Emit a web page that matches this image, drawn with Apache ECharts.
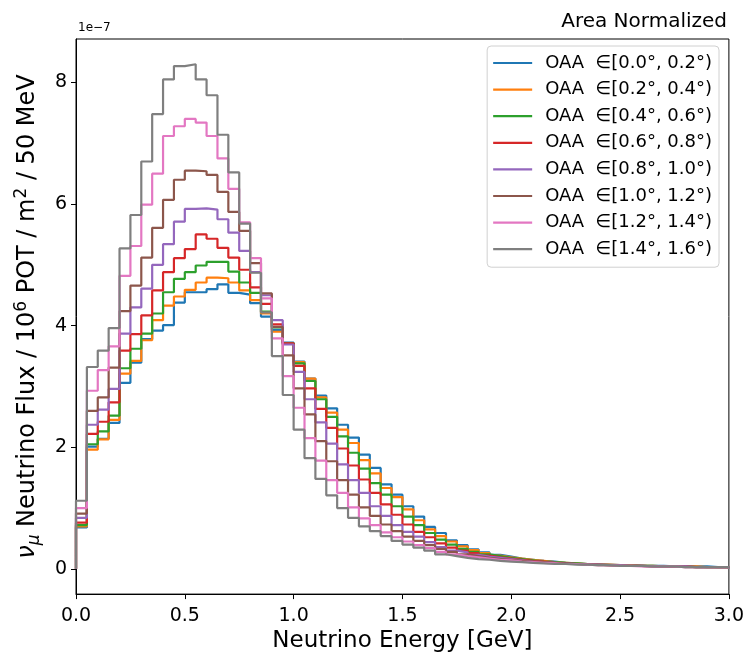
<!DOCTYPE html>
<html>
<head>
<meta charset="utf-8">
<script src="https://cdn.jsdelivr.net/npm/echarts@6/dist/echarts.min.js"></script>
<style>
  html, body { margin: 0; padding: 0; background: #fff; }
  #chart { width: 747px; height: 658px; }
</style>
</head>
<body>
<div id="chart"></div>
<script>
// Flux per 50 MeV bin, in units of 1e-7 (60 bins from 0 to 3 GeV)
const binWidth = 0.05;
const labels = [
    'OAA  ∈[0.0°, 0.2°)', 'OAA  ∈[0.2°, 0.4°)', 'OAA  ∈[0.4°, 0.6°)', 'OAA  ∈[0.6°, 0.8°)',
    'OAA  ∈[0.8°, 1.0°)', 'OAA  ∈[1.0°, 1.2°)', 'OAA  ∈[1.2°, 1.4°)', 'OAA  ∈[1.4°, 1.6°)'
];
const colors = ['#1f77b4', '#ff7f0e', '#2ca02c', '#d62728', '#9467bd', '#8c564b', '#e377c2', '#7f7f7f'];
const yTicks = [0, 2, 4, 6, 8];
const xTicks = [0, 0.5, 1.0, 1.5, 2.0, 2.5, 3.0];

const oaa00 = [0.68, 2.01, 2.14, 2.40, 3.06, 3.39, 3.78, 3.92, 4.01, 4.38,
    4.55, 4.55, 4.60, 4.68, 4.54, 4.51, 4.37, 4.15, 3.93, 3.72,
    3.41, 3.13, 2.85, 2.64, 2.37, 2.16, 1.88, 1.66, 1.39, 1.22,
    1.03, 0.86, 0.69, 0.59, 0.47, 0.39, 0.32, 0.27, 0.23, 0.20,
    0.17, 0.15, 0.13, 0.12, 0.10, 0.09, 0.08, 0.07, 0.07, 0.06,
    0.06, 0.05, 0.05, 0.05, 0.04, 0.04, 0.04, 0.04, 0.03, 0.03];
const oaa02 = [0.70, 1.96, 2.13, 2.45, 3.21, 3.42, 3.76, 4.09, 4.33, 4.48,
    4.59, 4.71, 4.79, 4.78, 4.71, 4.58, 4.42, 4.20, 3.90, 3.71,
    3.40, 3.13, 2.82, 2.57, 2.29, 2.07, 1.79, 1.57, 1.33, 1.18,
    0.98, 0.80, 0.65, 0.54, 0.45, 0.37, 0.31, 0.26, 0.22, 0.19,
    0.17, 0.15, 0.13, 0.11, 0.10, 0.09, 0.08, 0.07, 0.07, 0.06,
    0.06, 0.05, 0.05, 0.04, 0.04, 0.04, 0.04, 0.03, 0.03, 0.03];
const oaa04 = [0.72, 2.05, 2.26, 2.52, 3.30, 3.62, 3.87, 4.20, 4.55, 4.77,
    4.88, 4.99, 5.05, 5.05, 4.89, 4.71, 4.54, 4.23, 3.97, 3.71,
    3.38, 3.09, 2.79, 2.50, 2.18, 1.91, 1.65, 1.41, 1.22, 1.03,
    0.86, 0.72, 0.59, 0.48, 0.40, 0.33, 0.28, 0.24, 0.21, 0.18,
    0.16, 0.14, 0.12, 0.11, 0.10, 0.09, 0.08, 0.07, 0.06, 0.06,
    0.05, 0.05, 0.05, 0.04, 0.04, 0.04, 0.03, 0.03, 0.03, 0.03];
const oaa06 = [0.76, 2.22, 2.42, 2.74, 3.59, 3.86, 4.17, 4.58, 4.88, 5.11,
    5.26, 5.50, 5.43, 5.28, 5.12, 4.92, 4.63, 4.36, 4.02, 3.71,
    3.34, 2.97, 2.63, 2.32, 1.98, 1.70, 1.47, 1.25, 1.06, 0.89,
    0.73, 0.61, 0.52, 0.42, 0.35, 0.30, 0.26, 0.22, 0.19, 0.17,
    0.15, 0.13, 0.12, 0.10, 0.09, 0.08, 0.08, 0.07, 0.06, 0.06,
    0.05, 0.05, 0.04, 0.04, 0.04, 0.04, 0.03, 0.03, 0.03, 0.03];
const oaa08 = [0.84, 2.37, 2.62, 2.96, 3.87, 4.30, 4.61, 5.00, 5.34, 5.71,
    5.92, 5.93, 5.91, 5.75, 5.53, 5.23, 4.88, 4.50, 4.09, 3.69,
    3.24, 2.79, 2.41, 2.06, 1.72, 1.46, 1.25, 1.03, 0.87, 0.72,
    0.61, 0.53, 0.44, 0.36, 0.30, 0.27, 0.23, 0.20, 0.18, 0.16,
    0.14, 0.12, 0.11, 0.10, 0.09, 0.08, 0.07, 0.07, 0.06, 0.06,
    0.05, 0.05, 0.04, 0.04, 0.04, 0.04, 0.03, 0.03, 0.03, 0.03];
const oaa10 = [0.91, 2.60, 2.82, 3.31, 4.24, 4.66, 5.12, 5.61, 6.07, 6.40,
    6.55, 6.54, 6.48, 6.20, 5.87, 5.56, 5.03, 4.53, 3.98, 3.51,
    2.97, 2.54, 2.10, 1.77, 1.46, 1.22, 1.01, 0.87, 0.73, 0.62,
    0.53, 0.46, 0.39, 0.33, 0.28, 0.24, 0.21, 0.18, 0.16, 0.15,
    0.13, 0.12, 0.11, 0.10, 0.09, 0.08, 0.07, 0.06, 0.06, 0.05,
    0.05, 0.05, 0.04, 0.04, 0.04, 0.03, 0.03, 0.03, 0.03, 0.03];
const oaa12 = [1.00, 2.93, 3.27, 3.66, 4.82, 5.31, 5.99, 6.50, 7.12, 7.28,
    7.40, 7.34, 7.12, 6.75, 6.25, 5.70, 5.11, 4.45, 3.79, 3.17,
    2.65, 2.15, 1.78, 1.46, 1.25, 1.01, 0.83, 0.72, 0.60, 0.52,
    0.45, 0.39, 0.34, 0.28, 0.24, 0.21, 0.19, 0.17, 0.15, 0.14,
    0.12, 0.11, 0.10, 0.09, 0.08, 0.08, 0.07, 0.06, 0.06, 0.05,
    0.05, 0.04, 0.04, 0.04, 0.04, 0.03, 0.03, 0.03, 0.03, 0.03];
const oaa14 = [1.12, 3.32, 3.59, 3.96, 5.27, 5.82, 6.70, 7.48, 8.05, 8.27,
    8.30, 8.05, 7.79, 7.14, 6.52, 5.68, 4.87, 4.22, 3.50, 2.86,
    2.29, 1.82, 1.48, 1.21, 1.00, 0.84, 0.70, 0.62, 0.54, 0.46,
    0.40, 0.35, 0.30, 0.24, 0.21, 0.18, 0.16, 0.15, 0.13, 0.12,
    0.11, 0.10, 0.09, 0.08, 0.08, 0.07, 0.07, 0.06, 0.06, 0.05,
    0.05, 0.05, 0.04, 0.04, 0.04, 0.03, 0.03, 0.03, 0.03, 0.03];

const allSeries = [oaa00, oaa02, oaa04, oaa06, oaa08, oaa10, oaa12, oaa14];

// Build the outline of a step histogram (drops to zero at both ends)
function stepData(vals) {
    let pts = [[0, 0]];
    vals.forEach(function (v, i) {
        pts.push([+(i * binWidth).toFixed(2), v]);
    });
    let xEnd = +(vals.length * binWidth).toFixed(2);
    pts.push([xEnd, vals[vals.length - 1]]);
    pts.push([xEnd, 0]);
    return pts;
}

const FONT = 'DejaVu Sans';
let chart = echarts.init(document.getElementById('chart'), null, { renderer: 'canvas' });

let option = {
    animation: false,
    backgroundColor: '#fff',
    color: colors,
    title: {
        text: 'Area Normalized',
        right: 15,
        top: 7,
        textStyle: { fontFamily: FONT, fontSize: 20, fontWeight: 'normal', color: '#000' }
    },
    graphic: [{
        type: 'text',
        left: 78,
        top: 22,
        style: { text: '1e\u22127', fontFamily: FONT, fontSize: 12, fill: '#000' }
    }],
    legend: {
        orient: 'vertical',
        right: 28,
        top: 46,
        padding: [6, 7, 7, 6],
        itemWidth: 39,
        itemHeight: 2.2,
        itemGap: 4.6,
        icon: 'rect',
        borderColor: '#d0d0d0',
        borderWidth: 1,
        borderRadius: 4,
        backgroundColor: 'rgba(255,255,255,0.8)',
        textStyle: { fontFamily: FONT, fontSize: 18, color: '#000', lineHeight: 22, padding: [0, 0, 0, 8] },
        data: labels
    },
    grid: {
        left: 76,
        right: 18,
        top: 39,
        bottom: 57.5,
        show: true,
        borderColor: '#000',
        borderWidth: 1,
        containLabel: false
    },
    xAxis: {
        type: 'value',
        min: 0,
        max: 3,
        interval: 0.5,
        name: 'Neutrino Energy [GeV]',
        nameLocation: 'middle',
        nameGap: 29,
        nameTextStyle: { fontFamily: FONT, fontSize: 23, color: '#000' },
        axisLine: { show: true, onZero: false, lineStyle: { color: '#000', width: 1 } },
        axisTick: { show: true, length: 5, customValues: xTicks, lineStyle: { color: '#000' } },
        axisLabel: {
            customValues: xTicks,
            margin: 12,
            fontFamily: FONT, fontSize: 19, color: '#000',
            formatter: function (v) { return v.toFixed(1); }
        },
        splitLine: { show: false }
    },
    yAxis: {
        type: 'value',
        min: -0.415,
        max: 8.715,
        name: '{it|\u03bd}{sub|\u03bc}{a| Neutrino Flux / 10}{sup|6}{a| POT / m}{sup|2}{a| / 50 MeV}',
        nameLocation: 'middle',
        nameGap: 28,
        nameTextStyle: {
            fontFamily: FONT, fontSize: 24, color: '#000',
            rich: {
                a: { fontFamily: FONT, fontSize: 24, color: '#000', lineHeight: 32 },
                it: { fontFamily: FONT, fontSize: 24, fontStyle: 'italic', color: '#000', lineHeight: 32 },
                sub: { fontFamily: FONT, fontSize: 17, fontStyle: 'italic', color: '#000', lineHeight: 32, verticalAlign: 'bottom', padding: [0, 0, 1, 0] },
                sup: { fontFamily: FONT, fontSize: 17, color: '#000', lineHeight: 32, verticalAlign: 'top', padding: [1, 0, 0, 0] }
            }
        },
        axisLine: { show: true, onZero: false, lineStyle: { color: '#000', width: 1 } },
        axisTick: { show: true, length: 5, customValues: yTicks, lineStyle: { color: '#000' } },
        axisLabel: {
            customValues: yTicks,
            margin: 9,
            fontFamily: FONT, fontSize: 19, color: '#000'
        },
        splitLine: { show: false }
    },
    series: allSeries.map(function (vals, k) {
        return {
            name: labels[k],
            type: 'line',
            step: 'end',
            showSymbol: false,
            symbol: 'none',
            clip: true,
            lineStyle: { width: 2.2, color: colors[k] },
            itemStyle: { color: colors[k] },
            data: stepData(vals),
            z: 2 + k
        };
    })
};

chart.setOption(option);
</script>
</body>
</html>
